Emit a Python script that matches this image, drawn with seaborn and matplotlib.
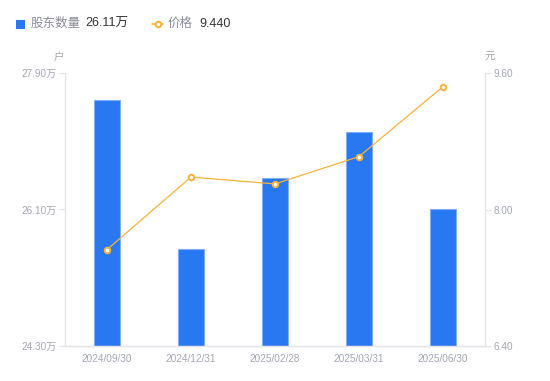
import matplotlib
matplotlib.use("Agg")
import matplotlib.pyplot as plt
import seaborn as sns
import pandas as pd
from matplotlib.patches import Rectangle
from matplotlib.lines import Line2D

dates = ["2024/09/30", "2024/12/31", "2025/02/28", "2025/03/31", "2025/06/30"]
holders = [27.54, 25.58, 26.51, 27.12, 26.11]   # 万户
prices = [7.53, 8.38, 8.30, 8.62, 9.44]
left_ticks = [24.30, 26.10, 27.90]
right_ticks = [6.40, 8.00, 9.60]

sns.set_style("white")
plt.rcParams["font.family"] = ["Liberation Sans", "Noto Sans CJK SC", "DejaVu Sans"]

BLUE = "#2878F2"
ORANGE = "#F8B23C"
GRAY = "#A3A6B4"
AXIS = "#E3E3E8"

df = pd.DataFrame({"date": dates, "holders": holders, "price": prices})

fig = plt.figure(figsize=(5.5, 3.81), dpi=100)
ax = fig.add_axes([65 / 550, 1 - 346 / 381, 420 / 550, 273 / 381])

sns.barplot(data=df, x="date", y="holders", ax=ax, color=BLUE, width=0.3,
            saturation=1, edgecolor="#7FAEF7", linewidth=0.8)
ax.set_ylim(left_ticks[0], left_ticks[-1])
ax.set_yticks(left_ticks)
ax.set_yticklabels([f"{v:.2f}万" for v in left_ticks])
ax.set_xlabel("")
ax.set_ylabel("")

ax2 = ax.twinx()
sns.pointplot(data=df, x="date", y="price", ax=ax2, color=ORANGE, markers="o",
              linewidth=0.9, markersize=4, markerfacecolor="white",
              markeredgecolor=ORANGE, markeredgewidth=1.4)
ax2.set_ylim(right_ticks[0], right_ticks[-1])
ax2.set_yticks(right_ticks)
ax2.set_yticklabels([f"{v:.2f}" for v in right_ticks])
ax2.set_ylabel("")
ax2.set_xlabel("")
ax.set_xlim(-0.5, len(dates) - 0.5)

for a in (ax, ax2):
    for s in a.spines.values():
        s.set_color(AXIS)
        s.set_linewidth(0.9)
    a.spines["top"].set_visible(False)
    a.tick_params(axis="y", colors=GRAY, labelsize=7.2, length=4, width=0.8, pad=2)
    a.tick_params(axis="y", labelcolor=GRAY)
    a.grid(False)
ax.tick_params(axis="y", color=AXIS)
ax2.tick_params(axis="y", color=AXIS)
ax.tick_params(axis="x", colors=GRAY, labelsize=7.2, length=0, pad=6)
ax2.spines["left"].set_visible(False)
ax.spines["right"].set_visible(False)

# unit labels
fig.text(59 / 550, 1 - 57 / 381, "户", color=GRAY, fontsize=7.5, ha="center", va="center")
fig.text(490 / 550, 1 - 57 / 381, "元", color=GRAY, fontsize=7.5, ha="center", va="center")

# legend
ly = 1 - 24 / 381
fig.add_artist(Rectangle((16 / 550, 1 - 29 / 381), 9 / 550, 9 / 381,
                         transform=fig.transFigure, color=BLUE, linewidth=0))
fig.text(31 / 550, ly, "股东数量", color="#8A8C99", fontsize=9, va="center")
fig.text(85 / 550, ly, f"{holders[-1]:.2f}万", color="#333333", fontsize=9, va="center")
fig.add_artist(Line2D([152 / 550, 163 / 550], [ly, ly], transform=fig.transFigure,
                      color=ORANGE, linewidth=1.2))
fig.add_artist(Line2D([157.5 / 550], [ly], transform=fig.transFigure, marker="o",
                      markersize=4, markerfacecolor="white", markeredgecolor=ORANGE,
                      markeredgewidth=1.4))
fig.text(168 / 550, ly, "价格", color="#8A8C99", fontsize=9, va="center")
fig.text(199 / 550, ly, f"{prices[-1]:.3f}", color="#333333", fontsize=9, va="center")

fig.savefig("out.png", dpi=100)
